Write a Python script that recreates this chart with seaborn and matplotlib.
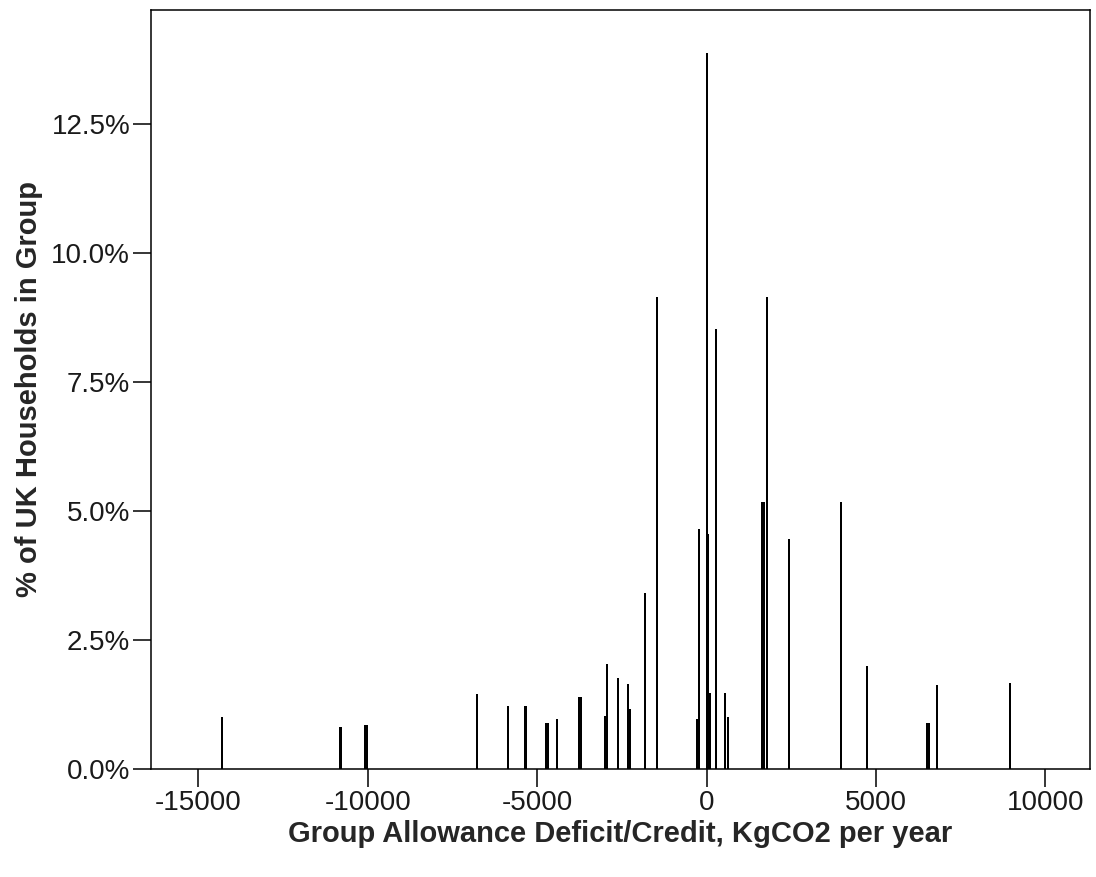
import numpy as np
import pandas as pd
import matplotlib
matplotlib.use("Agg")
import matplotlib.pyplot as plt
import seaborn as sns

# group allowance deficit/credit (KgCO2 per year) and share of households (%)
deficit = [-14300, -10830, -10790, -10075, -10025, -6780, -5870, -5370, -5330,
           -4730, -4690, -4410, -3760, -3710, -3000, -2950, -2610, -2330, -2260,
           -1805, -1475, -290, -220, 20, 40, 100, 270, 545, 625,
           1640, 1700, 1785, 2435, 3970, 4730, 6515, 6565, 6800, 8950]
pct_households = [1.00, 0.82, 0.82, 0.86, 0.86, 1.46, 1.22, 1.22, 1.22,
                  0.90, 0.90, 0.97, 1.40, 1.40, 1.03, 2.03, 1.76, 1.64, 1.16,
                  3.42, 9.15, 0.96, 4.65, 13.87, 4.55, 1.47, 8.53, 1.47, 1.01,
                  5.18, 5.18, 9.15, 4.46, 5.17, 1.99, 0.90, 0.90, 1.63, 1.67]

x_ticks = [-15000, -10000, -5000, 0, 5000, 10000]
y_ticks = [0.0, 2.5, 5.0, 7.5, 10.0, 12.5]
y_tick_labels = ["0.0%", "2.5%", "5.0%", "7.5%", "10.0%", "12.5%"]

df = pd.DataFrame({"deficit": deficit, "pct": pct_households})

sns.set_theme(style="ticks")
plt.rcParams["font.family"] = ["Liberation Sans", "DejaVu Sans"]
plt.rcParams["axes.unicode_minus"] = False

fig = plt.figure(figsize=(10.96, 8.77), dpi=100)
ax = fig.add_axes([0.1378, 0.1232, 0.8567, 0.8654])

# bars ~60 units wide on the native scale
min_gap = np.min(np.diff(np.unique(df["deficit"])))
sns.barplot(data=df, x="deficit", y="pct", native_scale=True, color="black",
            saturation=1, errorbar=None, width=60 / min_gap, linewidth=0, ax=ax)

ax.set_xlim(-16400, 11320)
ax.set_ylim(0, 14.71)
ax.set_xticks(x_ticks)
ax.set_xticklabels([str(t) for t in x_ticks])
ax.set_yticks(y_ticks)
ax.set_yticklabels(y_tick_labels)

for side in ["top", "right", "left", "bottom"]:
    ax.spines[side].set_visible(True)
    ax.spines[side].set_color("black")
    ax.spines[side].set_linewidth(1.1)

ax.tick_params(axis="both", length=13, width=1.1, color="black",
               labelsize=20, labelcolor="#1a1a1a", pad=2)

ax.set_xlabel("Group Allowance Deficit/Credit, KgCO2 per year",
              fontsize=21, fontweight="bold", labelpad=3)
ax.set_ylabel("% of UK Households in Group",
              fontsize=21, fontweight="bold", labelpad=6)

fig.savefig("out.png", dpi=100)
